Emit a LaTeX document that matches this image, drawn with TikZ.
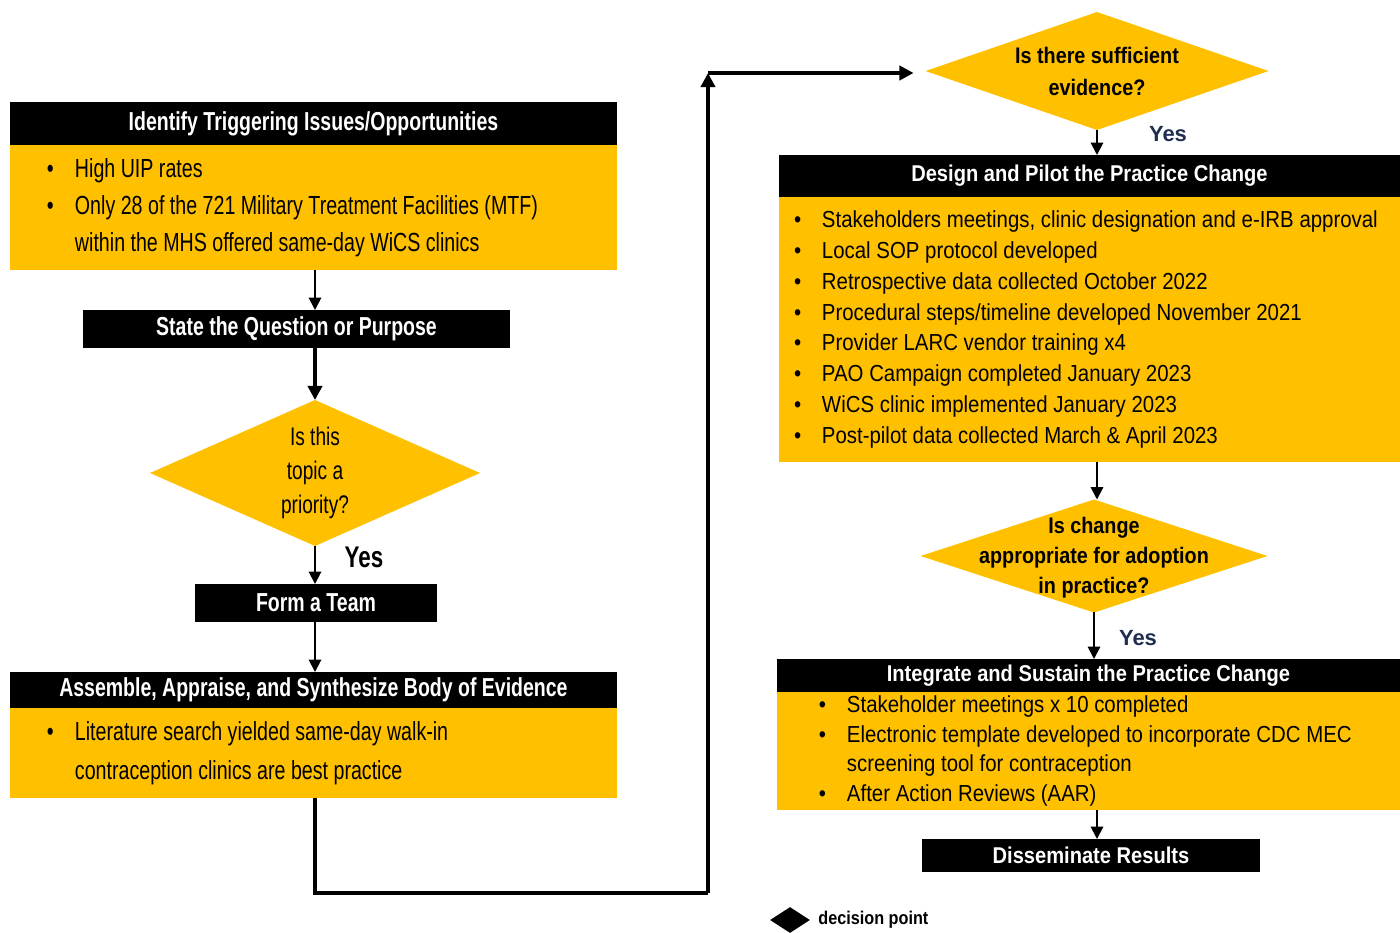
\documentclass[tikz,border=0pt]{standalone}
\usepackage{fontspec}
\setmainfont{Liberation Sans}
\newfontfamily\lnarrow{Liberation Sans}[FakeStretch=0.75]
\newfontfamily\rnarrow{Liberation Sans}[FakeStretch=0.88]
\usetikzlibrary{shapes.geometric, arrows.meta, calc}
\definecolor{ebpgold}{HTML}{FFC000}
\definecolor{yesnavy}{HTML}{1F2D4F}
\newcommand{\bl}{\makebox[0.56cm][l]{\textbullet}}
\newcommand{\nb}{\hspace*{0.56cm}}

\begin{document}
\begin{tikzpicture}[x=0.02cm, y=-0.02cm,
    hdr/.style={fill=black, text=white, inner sep=0pt, outer sep=0pt},
    lhdr/.style={hdr, font=\lnarrow\bfseries\fontsize{14.8}{16}\selectfont},
    rhdr/.style={hdr, font=\rnarrow\bfseries\fontsize{13}{15}\selectfont},
    panel/.style={fill=ebpgold, inner ysep=0pt, outer sep=0pt, align=flush left, anchor=north west},
    lpanel/.style={panel, font=\lnarrow\fontsize{14.9}{21}\selectfont},
    rpanel/.style={panel, font=\rnarrow\fontsize{13.2}{17.6}\selectfont},
    choice/.style={diamond, fill=ebpgold, inner sep=0pt, outer sep=0pt},
    yes/.style={text=yesnavy, font=\bfseries\fontsize{12.5}{14}\selectfont},
    thinarrow/.style={-{Triangle[width=7pt,length=7pt]}, line width=1.1pt},
    bigarrow/.style={-{Triangle[width=8pt,length=8pt]}, line width=2.2pt}]

    \useasboundingbox (0,0) rectangle (1400,933);

    % 1. Left column
    \node[lhdr, anchor=north west, minimum width=12.14cm, minimum height=0.86cm] (idH) at (10,102)
        {Identify Triggering Issues/Opportunities};
    \node[lpanel, inner xsep=0.74cm, text width=10.66cm, minimum height=2.5cm] (idB) at (idH.south west)
        {\bl High UIP rates\\
         \bl Only 28 of the 721 Military Treatment Facilities (MTF)\\
         \nb within the MHS offered same-day WiCS clinics};

    \node[lhdr, minimum width=8.54cm, minimum height=0.76cm] (st) at (296.5,329)
        {State the Question or Purpose};

    \node[choice, minimum width=6.6cm, minimum height=2.92cm] (pri) at (315,473) {};
    \node[align=center, font=\lnarrow\fontsize{14.5}{19.4}\selectfont] (priT) at (pri)
        {Is this\\topic a\\priority?};

    \node[lhdr, minimum width=4.84cm, minimum height=0.76cm] (team) at (316,603) {Form a Team};

    \node[lhdr, anchor=north west, minimum width=12.14cm, minimum height=0.72cm] (asH) at (10,672)
        {Assemble, Appraise, and Synthesize Body of Evidence};
    \node[lpanel, inner xsep=0.74cm, text width=10.66cm, minimum height=1.8cm,
          font=\lnarrow\fontsize{14.9}{22.2}\selectfont] (asB) at (asH.south west)
        {\bl Literature search yielded same-day walk-in\\
         \nb contraception clinics are best practice};

    % 2. Right column
    \node[choice, minimum width=6.86cm, minimum height=2.36cm] (suf) at (1097,71) {};
    \node[align=center, font=\rnarrow\bfseries\fontsize{12.8}{18.2}\selectfont] (sufT) at (suf)
        {Is there sufficient\\evidence?};

    \node[rhdr, anchor=north west, minimum width=12.42cm, minimum height=0.84cm] (dsH) at (779,155)
        {Design and Pilot the Practice Change};
    \node[rpanel, inner xsep=0.3cm, text width=11.82cm, minimum height=5.3cm] (dsB) at (dsH.south west)
        {\bl Stakeholders meetings, clinic designation and e-IRB approval\\
         \bl Local SOP protocol developed\\
         \bl Retrospective data collected October 2022\\
         \bl Procedural steps/timeline developed November 2021\\
         \bl Provider LARC vendor training x4\\
         \bl PAO Campaign completed January 2023\\
         \bl WiCS clinic implemented January 2023\\
         \bl Post-pilot data collected March \& April 2023};

    \node[choice, minimum width=6.94cm, minimum height=2.26cm] (chg) at (1094,556) {};
    \node[align=center, font=\rnarrow\bfseries\fontsize{12.8}{17}\selectfont] (chgT) at (1094,558)
        {Is change\\appropriate for adoption\\in practice?};

    \node[rhdr, anchor=north west, minimum width=12.46cm, minimum height=0.66cm] (inH) at (777,659)
        {Integrate and Sustain the Practice Change};
    \node[rpanel, inner xsep=0.84cm, text width=10.78cm, minimum height=2.36cm,
          font=\rnarrow\fontsize{13.2}{17}\selectfont] (inB) at (inH.south west)
        {\bl Stakeholder meetings x 10 completed\\
         \bl Electronic template developed to incorporate CDC MEC\\
         \nb screening tool for contraception\\
         \bl After Action Reviews (AAR)};

    \node[rhdr, minimum width=6.76cm, minimum height=0.66cm] (dis) at (1091,855.5) {Disseminate Results};

    % 3. Legend
    \node[diamond, fill=black, inner sep=0pt, minimum width=0.8cm, minimum height=0.52cm] (key) at (790,920) {};
    \node[anchor=west, inner sep=0pt, font=\rnarrow\bfseries\fontsize{10.5}{12}\selectfont] (keyT) at (818,920)
        {decision point};

    % 4. Connectors
    \draw[thinarrow] (idB.south -| pri.north) -- (st.north -| pri.north);
    \draw[bigarrow] (st.south -| pri.north) -- (pri.north);
    \draw[thinarrow] (pri.south) -- (team.north -| pri.south);
    \node[font=\lnarrow\bfseries\fontsize{17}{18}\selectfont] (yesA) at (364,557) {Yes};
    \draw[thinarrow] (team.south -| pri.south) -- (asH.north -| pri.south);

    \coordinate (turnB) at (708,893);
    \coordinate (turnT) at (708,73);
    \draw[line width=2.2pt] (asB.south -| pri.south) |- (turnB);
    \draw[bigarrow] (turnB) -- (turnT);
    \draw[bigarrow, shorten >=0.24cm] (turnT) -- (turnT -| suf.west);

    \draw[thinarrow] (suf.south) -- (dsH.north -| suf.south);
    \node[yes] (yesB) at (1168,134) {Yes};
    \draw[thinarrow] (dsB.south -| suf.south) -- (chg.north -| suf.south);
    \draw[thinarrow] (chg.south) -- (inH.north -| chg.south);
    \node[yes] (yesC) at (1138,638) {Yes};
    \draw[thinarrow] (inB.south -| suf.south) -- (dis.north -| suf.south);

\end{tikzpicture}
\end{document}
